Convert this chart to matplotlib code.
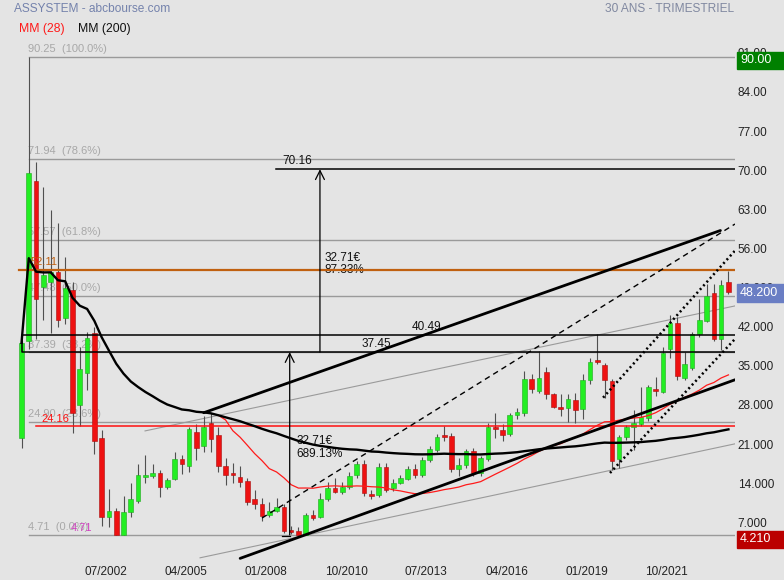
import matplotlib
matplotlib.use("Agg")
import matplotlib.pyplot as plt
from matplotlib.patches import Rectangle
import numpy as np
import pandas as pd

plt.rcParams['font.family'] = ['Liberation Sans', 'DejaVu Sans']

# quarterly candles, Q4 1999 .. Q1 2024
opens = [22.0, 39.5, 68.1, 49.1, 50.0, 51.8, 43.5, 48.5, 27.9, 33.7,
         40.8, 22.0, 8.0, 9.0, 4.8, 8.8, 10.9, 15.1, 15.3, 15.8,
         13.4, 14.7, 18.4, 17.1, 23.1, 20.6, 24.7, 22.6, 17.1, 15.6,
         15.1, 14.4, 11.2, 10.3, 8.3, 9.0, 9.7, 5.6, 5.4, 4.8,
         8.3, 8.0, 11.1, 13.1, 12.4, 13.4, 15.4, 17.5, 12.0, 11.9,
         16.9, 13.1, 14.1, 14.8, 16.5, 15.4, 18.2, 19.9, 22.6, 22.4,
         16.6, 17.2, 19.7, 15.8, 18.3, 24.1, 23.5, 22.8, 26.2, 26.5,
         32.7, 30.5, 33.8, 29.9, 27.4, 27.5, 28.9, 27.2, 32.4, 36.0,
         35.2, 32.3, 18.3, 22.2, 24.1, 24.6, 25.6, 30.8, 30.4, 38.0,
         42.7, 32.8, 34.6, 40.6, 43.1, 48.1, 39.8, 50.0]
highs = [39.5, 90.25, 71.5, 67.0, 62.9, 60.5, 54.5, 50.0, 38.4, 41.0,
         42.0, 23.5, 13.0, 9.5, 11.7, 14.1, 17.4, 19.1, 17.4, 16.4,
         15.0, 19.5, 19.0, 24.1, 24.5, 26.0, 26.6, 24.0, 18.5, 17.6,
         17.1, 15.0, 12.8, 11.3, 10.7, 11.3, 10.2, 6.3, 6.1, 8.6,
         9.2, 12.2, 14.3, 15.0, 14.2, 16.0, 18.0, 18.2, 12.8, 17.6,
         17.6, 14.8, 15.4, 17.0, 17.4, 18.6, 20.6, 22.8, 24.3, 23.0,
         18.5, 20.2, 20.3, 18.9, 24.7, 26.6, 24.6, 26.6, 27.5, 34.0,
         33.5, 37.6, 34.8, 30.2, 29.9, 29.9, 30.1, 33.5, 36.4, 40.6,
         35.5, 32.6, 22.6, 24.4, 27.1, 31.2, 31.5, 33.0, 38.3, 44.1,
         43.8, 37.5, 41.0, 46.9, 49.7, 49.6, 50.3, 52.0]
lows = [20.3, 38.0, 39.8, 43.2, 40.9, 42.0, 42.5, 23.0, 24.2, 30.7,
        19.2, 6.3, 6.2, 4.71, 4.71, 7.9, 10.5, 14.0, 14.9, 11.6,
        13.0, 14.5, 15.6, 16.0, 18.2, 19.5, 19.6, 16.0, 13.6, 14.1,
        13.4, 10.1, 9.3, 7.3, 8.0, 8.8, 5.0, 4.9, 4.71, 4.71,
        7.5, 7.8, 10.8, 12.2, 12.0, 13.0, 15.0, 11.7, 11.2, 11.5,
        12.5, 12.6, 13.8, 14.5, 15.0, 15.1, 17.8, 19.5, 21.6, 16.0,
        15.2, 16.8, 15.3, 15.3, 18.0, 22.0, 21.5, 22.5, 25.5, 26.0,
        30.2, 30.1, 29.0, 27.4, 26.0, 24.9, 24.7, 25.5, 31.8, 35.4,
        29.2, 16.4, 16.7, 21.8, 20.0, 24.2, 25.2, 29.6, 30.1, 36.4,
        32.5, 32.4, 34.2, 40.2, 42.8, 39.5, 37.8, 47.9]
closes = [39.1, 69.4, 47.0, 51.3, 51.8, 43.2, 49.0, 26.5, 34.4, 40.0,
          21.6, 8.0, 9.0, 4.8, 8.8, 11.1, 15.4, 15.3, 15.8, 13.4,
          14.6, 18.4, 17.4, 23.7, 20.3, 24.1, 21.9, 17.0, 15.4, 15.4,
          14.3, 10.7, 10.3, 8.2, 9.0, 9.7, 5.5, 5.2, 4.8, 8.3,
          7.8, 11.1, 13.2, 12.4, 13.4, 15.3, 17.5, 12.2, 11.7, 16.9,
          12.8, 14.1, 15.0, 16.5, 15.4, 18.2, 20.1, 22.2, 22.3, 16.5,
          17.3, 19.7, 15.8, 18.5, 24.1, 23.7, 22.6, 26.2, 26.7, 32.7,
          30.9, 32.9, 29.9, 27.7, 27.2, 29.0, 27.1, 32.5, 35.7, 35.6,
          32.4, 17.9, 22.3, 24.1, 24.7, 25.8, 31.2, 30.5, 37.3, 42.6,
          33.2, 35.3, 40.6, 43.2, 47.4, 39.8, 49.4, 48.2]

xtick_idx = [11, 22, 33, 44, 55, 66, 77, 88]
xtick_labels = ['07/2002', '04/2005', '01/2008', '10/2010',
                '07/2013', '04/2016', '01/2019', '10/2021']
ytick_vals = [7, 14, 21, 28, 35, 42, 49, 56, 63, 70, 77, 84, 91]

# fibonacci retracement between 4.71 and 90.25
fib_levels = [90.25, 71.94, 57.57, 47.48, 37.39, 24.90, 4.71]
fib_pcts = ['100.0', '78.6', '61.8', '50.0', '38.2', '23.6', '0.0']

# drawn trend lines: (start index, start value, end index, end value)
thick_lines = [(25.0, 26.6, 95.9, 59.2), (30.0, 0.55, 97.9, 32.5)]
dashed_line = (33.0, 7.77, 97.9, 60.36)
grey_lines = [(16.95, 23.35, 97.9, 45.71), (24.5, 0.65, 97.9, 21.04)]
dotted_lines = [(79.8, 29.3, 97.9, 55.6), (80.75, 15.83, 97.9, 39.8)]

bg = '#e4e4e4'
fig = plt.figure(figsize=(7.84, 5.80), dpi=100, facecolor=bg)
ax = fig.add_axes([14 / 784, 18 / 580, 721 / 784, 522 / 580])
ax.set_facecolor(bg)
for s in ax.spines.values():
    s.set_visible(False)
ax.set_xlim(-1.03, 97.9)
ax.set_ylim(-0.1, 93.28)
xmax = 97.9

o = np.array(opens)
h = np.array(highs)
l = np.array(lows)
c = np.array(closes)
idx = np.arange(len(c))

# fibonacci levels
for lev, p in zip(fib_levels, fib_pcts):
    ax.plot([1, xmax], [lev, lev], color='#9a9a9a', lw=1, zorder=1)
    ax.text(0.9, lev + 0.5, '%.2f  (%s%%)' % (lev, p), color='#a8a8a8',
            fontsize=8, va='bottom', ha='left', zorder=1)

# other horizontal levels
ax.plot([-0.3, xmax], [52.11, 52.11], color='#c06010', lw=1.6, zorder=4)
ax.text(1.2, 52.6, '52.11', color='#c06010', fontsize=8, va='bottom', zorder=4)
ax.plot([2.0, xmax], [24.16, 24.16], color='#ff1010', lw=1.1, zorder=4)
ax.text(2.7, 24.5, '24.16', color='#ff1010', fontsize=8, va='bottom', zorder=4)
ax.text(6.8, 5.1, '4.71', color='#d040c0', fontsize=8, va='bottom', zorder=4)
ax.plot([xmax, 0, 0, xmax], [40.49, 40.49, 37.45, 37.45], color='black', lw=1.1, zorder=4)
ax.plot([34.9, xmax], [70.16, 70.16], color='black', lw=1.1, zorder=4)

# trend lines
for x0, y0, x1, y1 in grey_lines:
    ax.plot([x0, x1], [y0, y1], color='#9a9a9a', lw=0.8, zorder=1)

# candles
up = c >= o
body = np.maximum(np.abs(c - o), 0.35)
bottom = np.minimum(o, c)
ax.vlines(idx, l, h, color='#505050', lw=0.8, zorder=2)
ax.bar(idx[up], body[up], bottom=bottom[up], width=0.64, color='#22ee22',
       edgecolor='#1fa81f', lw=0.4, zorder=3)
ax.bar(idx[~up], body[~up], bottom=bottom[~up], width=0.64, color='#ee1111',
       edgecolor='#a80f0f', lw=0.4, zorder=3)

# moving averages
cs = pd.Series(c)
mm28 = cs.rolling(28).mean()
mm200 = cs.rolling(200, min_periods=1).mean()
ax.plot(idx, mm28, color='#ff1a1a', lw=0.9, zorder=5)
ax.plot(idx, mm200, color='black', lw=1.7, zorder=5)

for x0, y0, x1, y1 in thick_lines:
    ax.plot([x0, x1], [y0, y1], color='black', lw=2.0, zorder=6, solid_capstyle='round')
x0, y0, x1, y1 = dashed_line
ax.plot([x0, x1], [y0, y1], color='black', lw=1.0, ls=(0, (4, 3)), zorder=6)
for x0, y0, x1, y1 in dotted_lines:
    ax.plot([x0, x1], [y0, y1], color='black', lw=1.8, ls=(0, (0.8, 1.2)), zorder=6)

# measurement arrows
ax.annotate('', xy=(36.8, 37.45), xytext=(36.8, 4.74),
            arrowprops=dict(arrowstyle='->', color='black', lw=0.9,
                            mutation_scale=16, shrinkA=0, shrinkB=0), zorder=7)
ax.plot([35.8, 36.9], [4.6, 4.6], color='black', lw=0.9, zorder=7)
ax.annotate('', xy=(40.95, 70.16), xytext=(40.95, 37.45),
            arrowprops=dict(arrowstyle='->', color='black', lw=0.9,
                            mutation_scale=16, shrinkA=0, shrinkB=0), zorder=7)
ax.text(35.8, 70.6, '70.16', fontsize=8.5, va='bottom', color='#111')
ax.text(41.6, 53.2, '32.71€\n87.33%', fontsize=8.5, va='center', color='#111',
        linespacing=1.05)
ax.text(53.6, 40.9, '40.49', fontsize=8.5, va='bottom', color='#111')
ax.text(46.6, 37.9, '37.45', fontsize=8.5, va='bottom', color='#111')
ax.text(37.7, 20.4, '32.71€\n689.13%', fontsize=8.5, va='center', color='#111',
        linespacing=1.05)

# axes ticks
ax.set_xticks(np.array(xtick_idx) + 0.55)
ax.set_xticklabels(xtick_labels, fontsize=8.5, color='#222')
ax.tick_params(axis='x', length=0, pad=3)
ax.yaxis.tick_right()
ax.set_yticks(ytick_vals)
ax.set_yticklabels(['%.2f' % v if v >= 56 else '%.3f' % v for v in ytick_vals],
                   fontsize=8.5, color='#222')
ax.tick_params(axis='y', length=0, pad=2)

# price tags on the right
def tag(ypx, hpx, color, txt):
    fig.add_artist(Rectangle((737 / 784, 1 - (ypx + hpx / 2) / 580), 47 / 784, hpx / 580,
                             transform=fig.transFigure, color=color, zorder=10))
    fig.text(740 / 784, 1 - ypx / 580, txt, color='white', fontsize=9,
             va='center', ha='left', zorder=11)

tag(60, 17, '#008000', '90.00')
tag(293, 18, '#6a7ec4', '48.200')
tag(539, 17, '#bb0000', '4.210')

# header
fig.text(14 / 784, 1 - 9 / 580, 'ASSYSTEM - abcbourse.com', color='#7482ac',
         fontsize=8.6, va='center')
fig.text(734 / 784, 1 - 9 / 580, '30 ANS - TRIMESTRIEL', color='#8088a0',
         fontsize=8.6, va='center', ha='right')
fig.text(19 / 784, 1 - 29 / 580, 'MM (28)', color='#ff1a1a', fontsize=8.8, va='center')
fig.text(78 / 784, 1 - 29 / 580, 'MM (200)', color='#111', fontsize=8.8, va='center')

fig.savefig('out.png', dpi=100, facecolor=bg)
